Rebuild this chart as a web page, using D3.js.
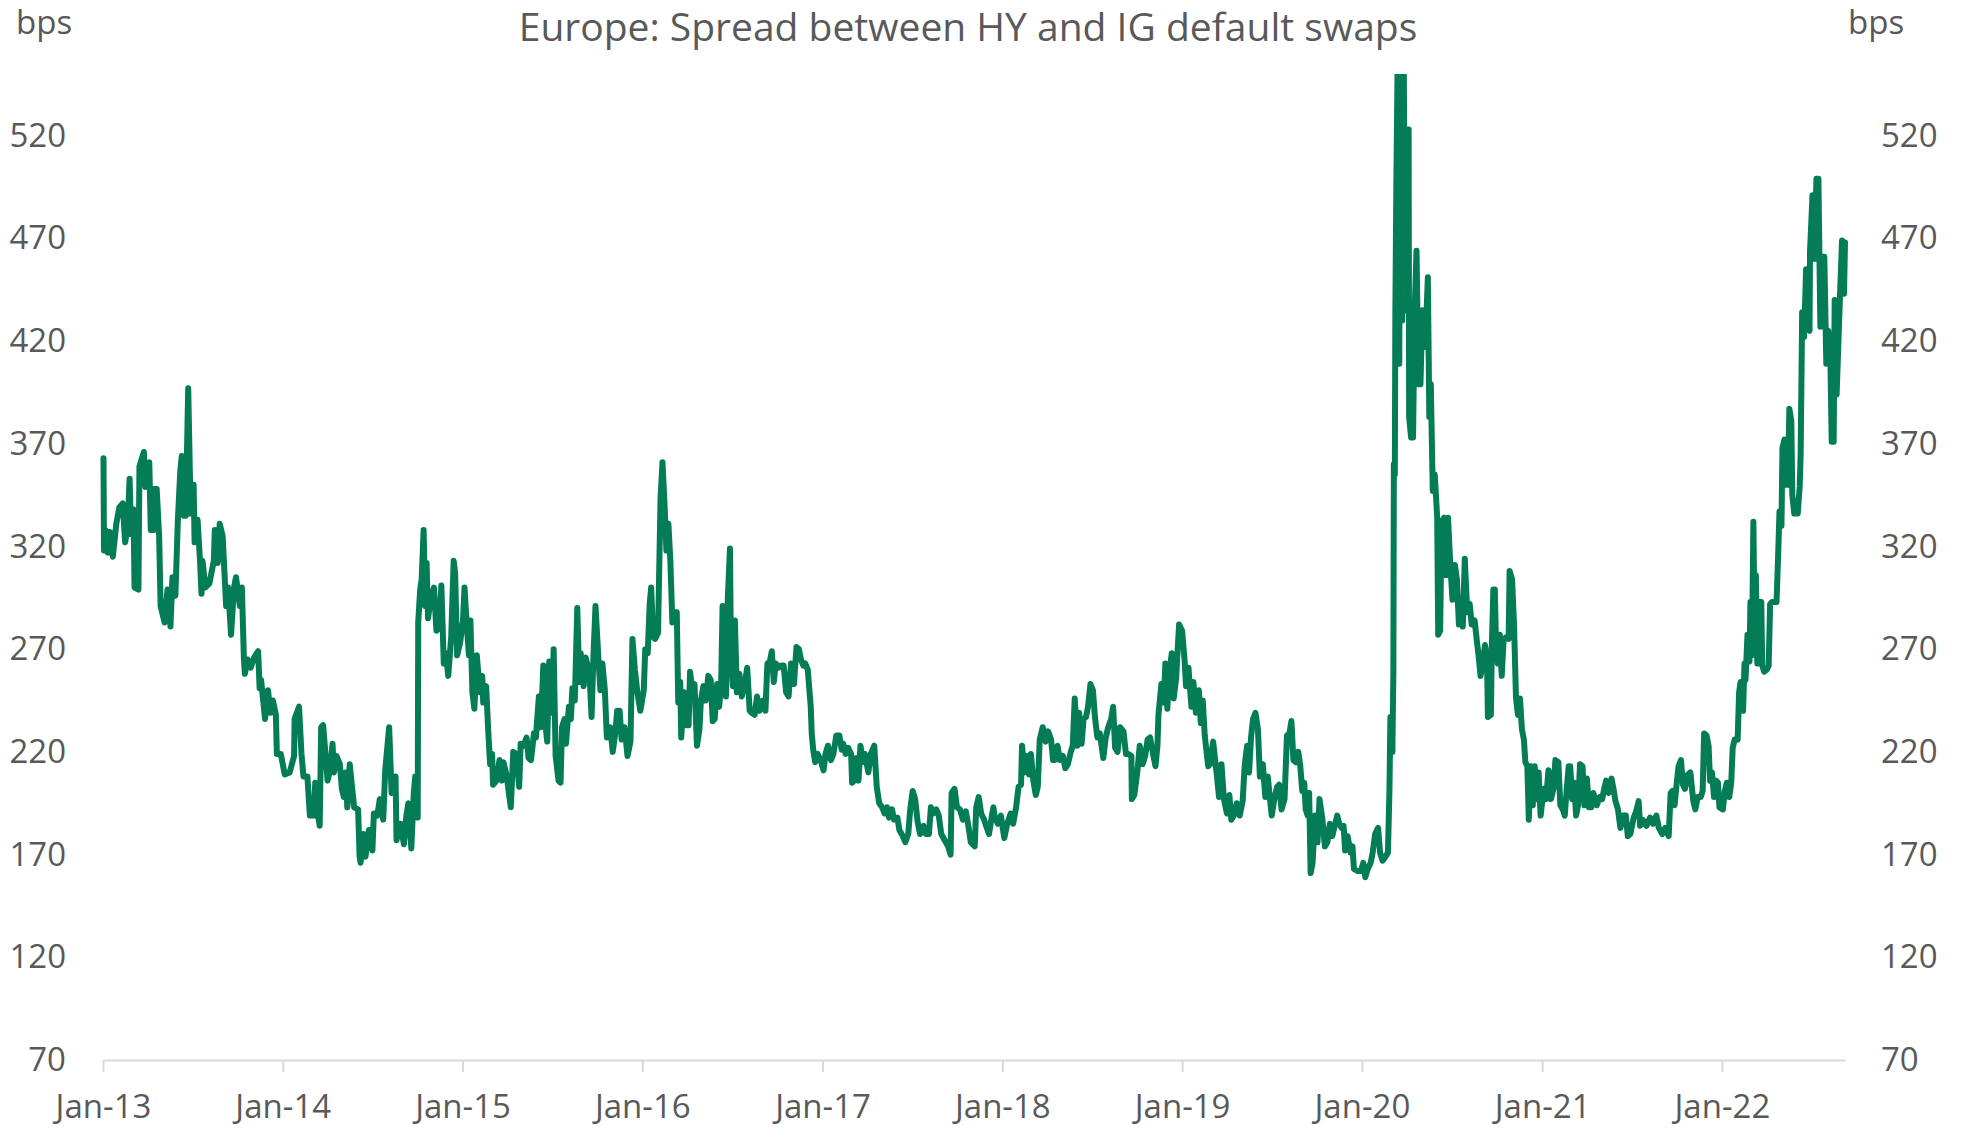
<!DOCTYPE html>
<html><head><meta charset="utf-8">
<script src="https://cdn.jsdelivr.net/npm/d3@7"></script>
<style>
html,body{margin:0;padding:0;background:#fff;}
svg{display:block;}
text{font-family:"Open Sans",sans-serif;fill:#595959;}
</style></head><body>
<svg id="chart" width="1961" height="1129"></svg>
<script>
const chartTitle = "Europe: Spread between HY and IG default swaps";
const unitLabel = "bps";
const yTickValues = [70, 120, 170, 220, 270, 320, 370, 420, 470, 520];
const yDomain = [70, 550];
const xTickYears = [2013, 2014, 2015, 2016, 2017, 2018, 2019, 2020, 2021, 2022];
const lastDate = "2022-09-08";

const dates = [
// 2013
"2013-01-02","2013-01-03","2013-01-06","2013-01-11","2013-01-15","2013-01-21","2013-01-28","2013-02-03","2013-02-10","2013-02-15",
"2013-02-20","2013-02-24","2013-02-27","2013-03-04","2013-03-06","2013-03-14","2013-03-16","2013-03-25","2013-03-28","2013-04-05",
"2013-04-08","2013-04-14","2013-04-15","2013-04-20","2013-04-25","2013-04-28","2013-05-06","2013-05-12","2013-05-18","2013-05-22",
"2013-05-28","2013-06-02","2013-06-07","2013-06-10","2013-06-14","2013-06-18","2013-06-23","2013-06-28","2013-07-04","2013-07-06",
"2013-07-12","2013-07-17","2013-07-20","2013-07-22","2013-07-28","2013-08-05","2013-08-14","2013-08-16","2013-08-22","2013-08-26",
"2013-09-01","2013-09-08","2013-09-12","2013-09-18","2013-09-24","2013-09-28","2013-10-06","2013-10-10","2013-10-14","2013-10-16",
"2013-10-22","2013-10-28","2013-11-04","2013-11-12","2013-11-15","2013-11-18","2013-11-26","2013-12-02","2013-12-07","2013-12-12",
"2013-12-18","2013-12-20","2013-12-28",
// 2014
"2014-01-05","2014-01-15","2014-01-24","2014-01-25","2014-02-03","2014-02-08","2014-02-12","2014-02-20","2014-02-25","2014-03-05",
"2014-03-08","2014-03-13","2014-03-17","2014-03-20","2014-03-24","2014-04-02","2014-04-07","2014-04-12","2014-04-15","2014-04-20",
"2014-04-27","2014-05-01","2014-05-05","2014-05-09","2014-05-12","2014-05-17","2014-05-22","2014-05-26","2014-06-03","2014-06-06",
"2014-06-08","2014-06-14","2014-06-18","2014-06-25","2014-07-02","2014-07-05","2014-07-12","2014-07-17","2014-07-24","2014-07-28",
"2014-08-05","2014-08-10","2014-08-18","2014-08-20","2014-08-28","2014-09-04","2014-09-09","2014-09-13","2014-09-19","2014-09-24",
"2014-09-27","2014-10-02","2014-10-03","2014-10-07","2014-10-10","2014-10-14","2014-10-17","2014-10-20","2014-10-23","2014-10-28",
"2014-11-04","2014-11-09","2014-11-15","2014-11-19","2014-11-24","2014-11-28","2014-12-03","2014-12-09","2014-12-14","2014-12-17",
"2014-12-21","2014-12-27",
// 2015
"2015-01-02","2015-01-05","2015-01-09","2015-01-14","2015-01-17","2015-01-21","2015-01-25","2015-01-30","2015-02-05","2015-02-10",
"2015-02-12","2015-02-18","2015-02-22","2015-02-26","2015-03-02","2015-03-04","2015-03-11","2015-03-17","2015-03-22","2015-03-25",
"2015-04-01","2015-04-05","2015-04-09","2015-04-14","2015-04-20","2015-04-26","2015-04-29","2015-05-05","2015-05-11","2015-05-15",
"2015-05-20","2015-05-26","2015-05-30","2015-06-05","2015-06-09","2015-06-14","2015-06-18","2015-06-22","2015-06-26","2015-07-02",
"2015-07-05","2015-07-09","2015-07-15","2015-07-19","2015-07-22","2015-07-27","2015-07-30","2015-08-05","2015-08-09","2015-08-12",
"2015-08-17","2015-08-22","2015-08-26","2015-08-29","2015-09-04","2015-09-08","2015-09-12","2015-09-16","2015-09-20","2015-09-24",
"2015-09-28","2015-10-04","2015-10-08","2015-10-12","2015-10-17","2015-10-21","2015-10-28","2015-11-02","2015-11-07","2015-11-11",
"2015-11-16","2015-11-20","2015-11-26","2015-12-02","2015-12-08","2015-12-12","2015-12-17","2015-12-22","2015-12-28",
// 2016
"2016-01-04","2016-01-07","2016-01-12","2016-01-16","2016-01-19","2016-01-23","2016-01-27","2016-02-02","2016-02-07","2016-02-11",
"2016-02-15","2016-02-19","2016-02-23","2016-02-27","2016-03-02","2016-03-06","2016-03-11","2016-03-14","2016-03-18","2016-03-20",
"2016-03-26","2016-03-30","2016-04-04","2016-04-07","2016-04-12","2016-04-16","2016-04-21","2016-04-26","2016-04-29","2016-05-04",
"2016-05-09","2016-05-14","2016-05-19","2016-05-23","2016-05-27","2016-06-01","2016-06-05","2016-06-09","2016-06-12","2016-06-16",
"2016-06-19","2016-06-22","2016-06-27","2016-06-29","2016-07-03","2016-07-07","2016-07-11","2016-07-16","2016-07-21","2016-07-26",
"2016-08-01","2016-08-06","2016-08-10","2016-08-16","2016-08-21","2016-08-26","2016-09-02","2016-09-07","2016-09-11","2016-09-16",
"2016-09-20","2016-09-24","2016-09-28","2016-10-04","2016-10-09","2016-10-14","2016-10-19","2016-10-24","2016-10-29","2016-11-04",
"2016-11-09","2016-11-14","2016-11-18","2016-11-23","2016-11-27","2016-12-02","2016-12-08","2016-12-10","2016-12-13","2016-12-17",
"2016-12-22","2016-12-28",
// 2017
"2017-01-03","2017-01-07","2017-01-12","2017-01-18","2017-01-23","2017-01-29","2017-02-04","2017-02-09","2017-02-12","2017-02-17",
"2017-02-22","2017-02-28","2017-03-02","2017-03-06","2017-03-11","2017-03-15","2017-03-19","2017-03-24","2017-03-28","2017-04-04",
"2017-04-09","2017-04-16","2017-04-21","2017-04-26","2017-05-02","2017-05-07","2017-05-12","2017-05-16","2017-05-22","2017-05-26",
"2017-06-02","2017-06-06","2017-06-13","2017-06-18","2017-06-24","2017-06-28","2017-07-03","2017-07-08","2017-07-13","2017-07-18",
"2017-07-25","2017-07-30","2017-08-05","2017-08-09","2017-08-14","2017-08-20","2017-08-25","2017-08-30","2017-09-06","2017-09-13",
"2017-09-18","2017-09-20","2017-09-26","2017-10-01","2017-10-07","2017-10-13","2017-10-19","2017-10-24","2017-10-29","2017-11-06",
"2017-11-09","2017-11-14","2017-11-19","2017-11-25","2017-11-29","2017-12-05","2017-12-11","2017-12-14","2017-12-16","2017-12-23",
"2017-12-29",
// 2018
"2018-01-05","2018-01-11","2018-01-18","2018-01-23","2018-01-29","2018-02-03","2018-02-08","2018-02-10","2018-02-15","2018-02-19",
"2018-02-24","2018-02-28","2018-03-05","2018-03-10","2018-03-14","2018-03-18","2018-03-24","2018-03-30","2018-04-04","2018-04-10",
"2018-04-14","2018-04-18","2018-04-23","2018-04-28","2018-05-04","2018-05-09","2018-05-14","2018-05-20","2018-05-24","2018-05-28",
"2018-06-02","2018-06-06","2018-06-11","2018-06-15","2018-06-20","2018-06-24","2018-06-29","2018-07-04","2018-07-08","2018-07-13",
"2018-07-18","2018-07-25","2018-07-30","2018-08-04","2018-08-10","2018-08-14","2018-08-18","2018-08-23","2018-08-28","2018-09-04",
"2018-09-09","2018-09-14","2018-09-20","2018-09-21","2018-09-26","2018-10-02","2018-10-07","2018-10-13","2018-10-18","2018-10-23",
"2018-10-28","2018-11-03","2018-11-08","2018-11-12","2018-11-14","2018-11-20","2018-11-25","2018-11-28","2018-12-02","2018-12-06",
"2018-12-11","2018-12-15","2018-12-20","2018-12-23","2018-12-26",
// 2019
"2019-01-01","2019-01-06","2019-01-09","2019-01-14","2019-01-20","2019-01-24","2019-01-29","2019-02-04","2019-02-08","2019-02-12",
"2019-02-16","2019-02-23","2019-02-27","2019-03-05","2019-03-12","2019-03-17","2019-03-22","2019-03-27","2019-04-02","2019-04-07",
"2019-04-11","2019-04-16","2019-04-22","2019-04-28","2019-05-04","2019-05-08","2019-05-13","2019-05-17","2019-05-21","2019-05-25",
"2019-05-30","2019-06-04","2019-06-08","2019-06-14","2019-06-19","2019-06-24","2019-06-28","2019-07-02","2019-07-08","2019-07-13",
"2019-07-17","2019-07-22","2019-07-28","2019-08-02","2019-08-07","2019-08-11","2019-08-15","2019-08-20","2019-08-25","2019-08-29",
"2019-09-02","2019-09-06","2019-09-09","2019-09-13","2019-09-16","2019-09-19","2019-09-23","2019-09-28","2019-10-03","2019-10-07",
"2019-10-13","2019-10-18","2019-10-23","2019-10-28","2019-11-02","2019-11-06","2019-11-12","2019-11-16","2019-11-21","2019-11-25",
"2019-11-28","2019-12-03","2019-12-09","2019-12-13","2019-12-16","2019-12-23","2019-12-30",
// 2020
"2020-01-04","2020-01-08","2020-01-13","2020-01-19","2020-01-23","2020-01-28","2020-02-03","2020-02-07","2020-02-12","2020-02-18",
"2020-02-23","2020-02-26","2020-02-28","2020-03-03","2020-03-05","2020-03-06","2020-03-08","2020-03-09","2020-03-11","2020-03-14",
"2020-03-17","2020-03-19","2020-03-23","2020-03-26","2020-03-29","2020-04-01","2020-04-05","2020-04-06","2020-04-10","2020-04-14",
"2020-04-17","2020-04-21","2020-04-25","2020-04-29","2020-05-03","2020-05-06","2020-05-10","2020-05-14","2020-05-17","2020-05-20",
"2020-05-24","2020-05-28","2020-06-02","2020-06-04","2020-06-08","2020-06-11","2020-06-16","2020-06-20","2020-06-24","2020-06-28",
"2020-07-03","2020-07-08","2020-07-12","2020-07-16","2020-07-20","2020-07-24","2020-07-28","2020-08-02","2020-08-07","2020-08-11",
"2020-08-17","2020-08-21","2020-08-25","2020-08-29","2020-09-03","2020-09-07","2020-09-11","2020-09-13","2020-09-19","2020-09-21",
"2020-09-24","2020-09-27","2020-09-29","2020-10-03","2020-10-07","2020-10-11","2020-10-15","2020-10-21","2020-10-25","2020-10-27",
"2020-11-01","2020-11-05","2020-11-09","2020-11-13","2020-11-17","2020-11-21","2020-11-25","2020-11-28","2020-12-02","2020-12-05",
"2020-12-09","2020-12-13","2020-12-17","2020-12-21","2020-12-25","2020-12-29",
// 2021
"2021-01-04","2021-01-09","2021-01-14","2021-01-19","2021-01-24","2021-01-28","2021-02-03","2021-02-07","2021-02-12","2021-02-16",
"2021-02-20","2021-02-24","2021-02-27","2021-03-03","2021-03-07","2021-03-11","2021-03-15","2021-03-19","2021-03-24","2021-03-28",
"2021-04-02","2021-04-06","2021-04-11","2021-04-15","2021-04-22","2021-04-28","2021-05-03","2021-05-07","2021-05-11","2021-05-16",
"2021-05-22","2021-05-26","2021-05-30","2021-06-04","2021-06-09","2021-06-14","2021-06-20","2021-06-24","2021-06-29","2021-07-06",
"2021-07-11","2021-07-16","2021-07-19","2021-07-24","2021-08-01","2021-08-08","2021-08-14","2021-08-21","2021-08-26","2021-09-02",
"2021-09-08","2021-09-15","2021-09-19","2021-09-23","2021-09-27","2021-10-01","2021-10-05","2021-10-10","2021-10-14","2021-10-18",
"2021-10-24","2021-10-29","2021-11-04","2021-11-08","2021-11-13","2021-11-19","2021-11-23","2021-11-26","2021-12-01","2021-12-05",
"2021-12-08","2021-12-12","2021-12-16","2021-12-20","2021-12-24","2021-12-27",
// 2022
"2022-01-03","2022-01-07","2022-01-11","2022-01-16","2022-01-20","2022-01-23","2022-01-27","2022-02-02","2022-02-05","2022-02-08",
"2022-02-13","2022-02-16","2022-02-18","2022-02-22","2022-02-26","2022-02-28","2022-03-03","2022-03-06","2022-03-08","2022-03-11",
"2022-03-14","2022-03-18","2022-03-22","2022-03-24","2022-03-28","2022-04-02","2022-04-06","2022-04-09","2022-04-13","2022-04-17",
"2022-04-22","2022-04-25","2022-04-28","2022-05-02","2022-05-04","2022-05-08","2022-05-11","2022-05-15","2022-05-18","2022-05-22",
"2022-05-24","2022-05-28","2022-06-04","2022-06-08","2022-06-10","2022-06-13","2022-06-17","2022-06-21","2022-06-24","2022-06-28",
"2022-06-29","2022-07-04","2022-07-08","2022-07-12","2022-07-16","2022-07-20","2022-07-24","2022-07-28","2022-08-01","2022-08-05",
"2022-08-09","2022-08-12","2022-08-16","2022-08-18","2022-08-22","2022-08-26","2022-08-29","2022-09-02","2022-09-06","2022-09-08"
];

const spread = [
// 2013
363,318,328,317,327,315,331,339,341,322,
330,353,326,338,300,299,359,366,349,361,
328,328,348,348,325,291,283,299,281,305,
296,333,357,364,335,335,397,336,350,322,
333,313,297,313,300,302,313,328,312,331,
325,291,300,277,300,305,291,300,266,258,
265,261,266,269,251,255,236,250,239,245,
238,219,219,
// 2014
209,210,218,236,242,219,208,208,189,189,
205,190,184,232,233,206,211,224,210,218,
214,202,198,210,193,214,202,193,192,169,
166,180,169,182,172,190,189,197,187,211,
232,200,208,177,185,175,189,195,173,200,
208,188,283,299,304,328,291,312,285,294,
300,279,281,301,263,268,257,276,313,307,
267,273,
// 2015
284,300,284,267,284,249,241,267,249,257,
244,252,231,214,219,204,206,216,206,215,
208,200,193,220,219,203,224,223,227,217,
216,229,227,247,232,262,234,225,264,239,
270,218,206,205,232,236,224,242,236,251,
245,290,254,268,252,266,262,257,237,268,
291,265,250,263,250,227,232,220,229,240,
240,226,232,218,225,275,260,249,240,
// 2016
250,270,268,292,300,276,275,278,343,361,
341,318,331,313,283,288,288,244,254,227,
249,233,233,259,249,253,223,231,245,252,
245,257,255,235,236,253,242,252,291,288,
247,291,319,268,252,284,249,258,247,252,
261,240,239,238,247,240,245,240,263,264,
269,254,263,261,262,262,249,247,263,253,
271,270,265,262,263,260,242,229,221,215,
219,216,
// 2017
211,219,223,216,219,228,228,221,224,219,
222,219,205,206,217,206,223,215,219,210,
219,223,203,195,193,190,193,188,192,187,
188,182,179,176,180,192,201,197,186,180,
184,180,180,193,190,192,189,180,177,174,
170,200,202,193,192,187,191,184,176,174,
193,198,190,187,184,180,189,193,189,185,
189,
// 2018
178,185,190,185,193,203,204,223,210,218,
209,219,206,199,203,226,232,225,230,226,
216,216,223,216,218,212,214,220,223,246,
223,239,224,236,237,242,253,250,237,227,
229,217,227,232,236,242,222,220,232,230,
219,219,218,197,199,210,223,214,218,226,
227,219,213,223,238,253,244,263,241,258,
268,246,256,270,282,
// 2019
279,265,252,261,242,254,239,250,234,245,
228,213,214,225,210,198,214,197,190,199,
187,189,195,189,196,213,223,210,227,236,
239,231,208,214,198,208,198,189,198,203,
204,192,197,228,229,235,216,215,220,213,
201,205,192,189,200,161,166,189,176,197,
187,174,176,185,179,183,189,185,183,184,
172,179,171,174,163,162,162,
// 2020
166,159,163,166,171,180,183,171,167,169,
171,201,237,220,259,360,355,433,495,565,
409,575,430,560,435,523,523,383,373,373,
433,464,399,399,435,417,425,451,383,399,
347,355,334,277,279,332,334,306,334,314,
294,311,304,282,290,281,314,288,292,282,
284,275,267,257,264,272,267,237,238,272,
299,299,277,263,277,257,275,276,275,308,
304,282,246,238,246,231,226,215,213,187,
213,194,213,197,210,189,
// 2021
202,197,211,197,202,216,215,194,192,189,
202,213,213,197,205,189,194,214,213,194,
207,193,193,200,194,198,197,202,206,200,
207,202,196,192,183,189,189,179,180,188,
191,196,184,187,184,188,185,189,183,180,
183,179,200,201,194,204,213,216,204,202,
209,210,196,192,198,198,201,229,228,223,
206,210,198,206,205,193,
// 2022
192,201,205,198,205,222,226,226,249,254,
240,263,255,277,264,293,267,332,285,306,
263,293,293,262,259,260,262,292,293,293,
293,314,337,330,368,372,350,350,387,381,
345,336,336,349,365,434,422,455,426,425,
464,491,460,499,499,427,461,461,409,425,
416,371,371,440,394,422,443,469,443,468
];

const W = 1961, H = 1129;
const plot = { left: 103, right: 1845, top: 74, bottom: 1060 };
const lineColor = "#047d56";
const axisColor = "#d9d9d9";

const parse = d3.timeParse("%Y-%m-%d");
if (dates.length !== spread.length) console.error("length mismatch", dates.length, spread.length);
const series = dates.map((d, i) => ({ date: parse(d), value: spread[i] }));

const x = d3.scaleTime()
  .domain([new Date(2013, 0, 1), parse(lastDate)])
  .range([plot.left, plot.right]);
const y = d3.scaleLinear().domain(yDomain).range([plot.bottom, plot.top]);

const svg = d3.select("#chart");

svg.append("defs").append("clipPath").attr("id", "plotclip")
  .append("rect")
  .attr("x", plot.left - 6).attr("y", plot.top)
  .attr("width", plot.right - plot.left + 12).attr("height", plot.bottom - plot.top + 6);

// x axis
const xAxis = d3.axisBottom(x)
  .tickValues(xTickYears.map(yr => new Date(yr, 0, 1)))
  .tickFormat(d3.timeFormat("%b-%y"))
  .tickSizeInner(12).tickSizeOuter(0).tickPadding(23);
const gx = svg.append("g").attr("transform", `translate(0,${plot.bottom})`).call(xAxis);
gx.select(".domain").attr("stroke", axisColor).attr("stroke-width", 2);
gx.selectAll(".tick line").attr("stroke", axisColor).attr("stroke-width", 2);
gx.selectAll(".tick text").attr("font-size", 33).attr("font-family", "Open Sans").attr("fill", "#595959");

// left y axis
const yl = d3.axisLeft(y).tickValues(yTickValues).tickSize(0).tickPadding(37);
const gyl = svg.append("g").attr("transform", `translate(${plot.left},0)`).call(yl);
gyl.select(".domain").remove();
gyl.selectAll(".tick text").attr("font-size", 33).attr("font-family", "Open Sans").attr("fill", "#595959");

// right y axis
const yr = d3.axisRight(y).tickValues(yTickValues).tickSize(0).tickPadding(36);
const gyr = svg.append("g").attr("transform", `translate(${plot.right},0)`).call(yr);
gyr.select(".domain").remove();
gyr.selectAll(".tick text").attr("font-size", 33).attr("font-family", "Open Sans").attr("fill", "#595959");

// line
const line = d3.line().x(d => x(d.date)).y(d => y(d.value));
svg.append("path")
  .datum(series)
  .attr("clip-path", "url(#plotclip)")
  .attr("fill", "none")
  .attr("stroke", lineColor)
  .attr("stroke-width", 6)
  .attr("stroke-linejoin", "round")
  .attr("stroke-linecap", "round")
  .attr("d", line);

// title and unit labels
svg.append("text").attr("x", 968).attr("y", 41)
  .attr("text-anchor", "middle").attr("font-size", 39).text(chartTitle);
svg.append("text").attr("x", 16).attr("y", 34).attr("font-size", 33).text(unitLabel);
svg.append("text").attr("x", 1848).attr("y", 34).attr("font-size", 33).text(unitLabel);
</script>
</body></html>
